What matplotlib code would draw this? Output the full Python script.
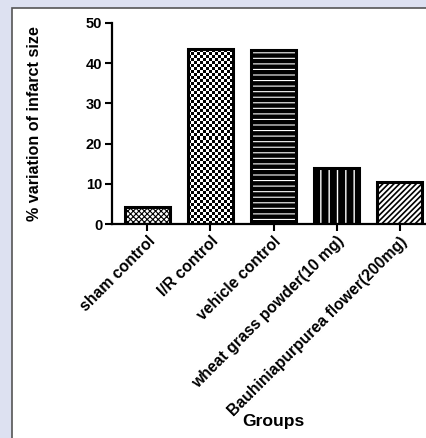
import numpy as np
import matplotlib
matplotlib.use('Agg')
from matplotlib import pyplot as plt
from matplotlib.patches import Rectangle

groups = ['sham control', 'I/R control', 'vehicle control',
          'wheat grass powder(10 mg)', 'Bauhiniapurpurea flower(200mg)']
infarct = [4.2, 43.5, 43.4, 13.9, 10.5]
faces = ['white', 'white', 'black', 'black', 'white']
hatches = ['xxxxxx', None, '---', '||', '//////']
hatch_cols = ['black', 'black', 'white', 'white', 'black']
hatch_lws = [0.8, 1.0, 0.8, 1.0, 1.2]

plt.rcParams['font.family'] = ['Liberation Sans', 'DejaVu Sans']
plt.rcParams['font.weight'] = 'bold'

fig = plt.figure(figsize=(4.26, 4.38), dpi=100)
fig.patch.set_facecolor('#dde1f1')
panel = Rectangle((12 / 426, -0.1), 1.1, 1.1 - 8 / 438,
                  transform=fig.transFigure, facecolor='white',
                  edgecolor='#555555', linewidth=1.2, zorder=-5)
fig.add_artist(panel)

ax = fig.add_axes([112 / 426, 214 / 438, 323 / 426, 201 / 438])
ax.set_zorder(2)
ax.set_facecolor('none')

x = range(len(groups))
for i in x:
    plt.rcParams['hatch.linewidth'] = hatch_lws[i]
    b = ax.bar(i, infarct[i], width=0.71, color=faces[i], edgecolor=hatch_cols[i],
               hatch=hatches[i], linewidth=0, zorder=2)[0]
    if hatches[i] is None:
        # checkerboard fill for the I/R bar
        ny, nx = int(infarct[i] * 201 / 50 / 3), 15
        checker = np.indices((ny, nx)).sum(axis=0) % 2
        im = ax.imshow(checker, cmap='gray', interpolation='nearest', aspect='auto',
                       extent=(b.get_x(), b.get_x() + b.get_width(), 0, b.get_height()),
                       zorder=2.5)
        im.set_clip_path(b)
    ax.bar(i, infarct[i], width=0.71, fill=False, edgecolor='black',
           linewidth=2.2, zorder=3)

ax.set_xlim(-0.56, 4.56)
ax.set_ylim(0, 50)
ax.set_yticks([0, 10, 20, 30, 40, 50])
ax.set_xticks(list(x))
ax.set_xticklabels(groups, rotation=45, ha='right', rotation_mode='anchor',
                   fontsize=11.3, fontweight='bold')
for lab in ax.get_yticklabels():
    lab.set_fontsize(10.5)
    lab.set_fontweight('bold')

for s in ['top', 'right']:
    ax.spines[s].set_visible(False)
for s in ['left', 'bottom']:
    ax.spines[s].set_linewidth(1.6)
ax.tick_params(axis='both', width=1.5, length=5, pad=2)

ax.set_ylabel('% variation of infarct size', fontsize=11.6, fontweight='bold')
ax.yaxis.set_label_coords((42 - 112) / 323, 0.5)
ax.set_xlabel('Groups', fontsize=12.6, fontweight='bold')
ax.xaxis.set_label_coords((273 - 112) / 323, -0.945)

plt.savefig('out.png', dpi=100, facecolor=fig.get_facecolor())
